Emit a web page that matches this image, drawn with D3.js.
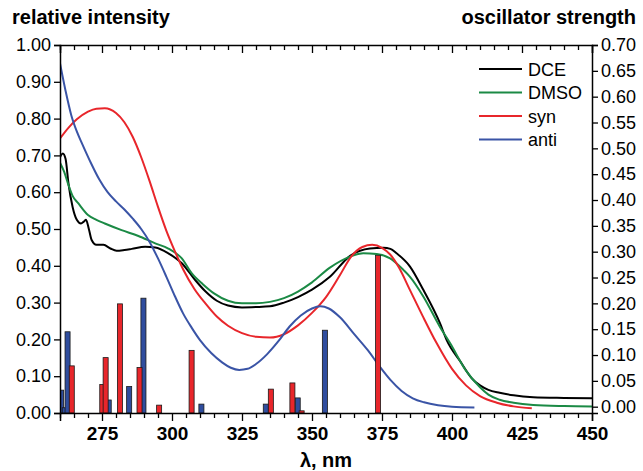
<!DOCTYPE html>
<html>
<head>
<meta charset="utf-8">
<script src="https://cdn.jsdelivr.net/npm/d3@7"></script>
<style>
  body { margin: 0; background: #fff; }
  svg text { font-family: "Liberation Sans", Arial, sans-serif; }
</style>
</head>
<body>
<div id="chart"></div>
<script>

// Absorption spectra (relative intensity), [wavelength nm, value]
var dce = [[260,0.695],[261,0.705],[262,0.69],[263,0.625],[264.5,0.56],[266,0.525],[267.5,0.515],[268.5,0.52],[269.3,0.525],[270.3,0.50],[271.3,0.47],[273,0.457],[275.5,0.457],[278,0.447],[280.2,0.441],[283,0.443],[285.6,0.446],[290.4,0.452],[294,0.45],[298.7,0.434],[303.5,0.407],[308.2,0.362],[312,0.33],[316,0.305],[320,0.292],[325,0.287],[330,0.288],[335,0.29],[340,0.30],[345,0.315],[350,0.335],[356.4,0.37],[363.6,0.427],[370.7,0.447],[375.5,0.449],[378,0.446],[380.2,0.434],[385,0.398],[389.8,0.334],[395.7,0.244],[398.1,0.198],[403,0.14],[407,0.095],[410,0.075],[413,0.063],[417,0.055],[422,0.048],[429,0.043],[440,0.041],[450,0.04]];

var dmso = [[260,0.68],[261.5,0.655],[263,0.62],[264.5,0.59],[266.5,0.57],[270,0.538],[273,0.525],[276,0.515],[282,0.497],[288,0.481],[294,0.461],[298.7,0.447],[303.5,0.42],[307,0.38],[311,0.35],[315,0.325],[320,0.305],[325,0.298],[330,0.298],[335,0.302],[340,0.312],[345,0.33],[350,0.355],[356.4,0.395],[363.6,0.425],[368.3,0.434],[373.1,0.432],[377.9,0.42],[382.6,0.389],[385,0.37],[389.8,0.316],[395.7,0.234],[399.3,0.19],[405,0.115],[410,0.07],[413,0.05],[417,0.036],[422,0.028],[429,0.022],[440,0.019],[450,0.018]];

// Calculated spectra
var syn = [[260,0.746],[263,0.775],[266,0.798],[270,0.819],[273,0.827],[276,0.828],[280,0.815],[283,0.79],[286,0.75],[289,0.695],[292,0.63],[295,0.56],[298,0.495],[301,0.44],[304,0.39],[308,0.337],[312,0.297],[316,0.262],[320,0.237],[325,0.217],[330,0.207],[335,0.205],[340,0.214],[345,0.238],[350,0.272],[355,0.315],[360,0.375],[364,0.425],[368,0.451],[371.5,0.457],[375,0.449],[378,0.43],[381,0.396],[385,0.334],[389.5,0.264],[394.5,0.19],[400,0.12],[405,0.075],[410,0.046],[416,0.028],[422,0.018],[428.5,0.013]];

var anti = [[260,0.95],[262,0.875],[264,0.81],[266,0.765],[268,0.73],[271,0.68],[274,0.635],[277,0.6],[280,0.575],[283,0.553],[286,0.528],[289,0.5],[292,0.465],[295,0.42],[298,0.37],[301,0.318],[304,0.27],[307,0.232],[310,0.198],[314,0.163],[318,0.137],[321,0.123],[324,0.117],[327,0.12],[330,0.133],[334,0.16],[338,0.195],[342,0.235],[346,0.265],[350,0.284],[353,0.29],[356,0.284],[360,0.26],[365,0.215],[370,0.17],[374,0.128],[378,0.09],[382,0.06],[386,0.04],[390,0.029],[395,0.021],[400,0.017],[408,0.015]];

// Oscillator strengths (right axis), [wavelength nm, f]
var synBars = [[264.2,0.079],[275.1,0.043],[276.3,0.095],[281.4,0.199],[288.4,0.076],[295.4,0.003],[307.0,0.109],[335.3,0.034],[343.0,0.046],[346.3,-0.008],[373.6,0.293]];
var antiBars = [[260.4,0.032],[261.7,-0.002],[262.7,0.145],[277.4,0.013],[284.7,0.039],[289.8,0.210],[310.5,0.005],[333.5,0.005],[344.9,0.017],[354.6,0.148]];

var xTicks = [275, 300, 325, 350, 375, 400, 425, 450];
var leftTicks = d3.range(0, 1.001, 0.1);
var rightTicks = d3.range(0, 0.7001, 0.05);

var series = [
    {name: "DCE",  data: dce,  color: "#000000"},
    {name: "DMSO", data: dmso, color: "#1b8a45"},
    {name: "syn",  data: syn,  color: "#e8262b"},
    {name: "anti", data: anti, color: "#3a54a6"}
];


var W = 643, H = 471;
var margin = {top: 45, right: 51, bottom: 58, left: 60},
    width = W - margin.left - margin.right,
    height = H - margin.top - margin.bottom;

var x = d3.scaleLinear().domain([260, 450]).range([0, width]);
var yL = d3.scaleLinear().domain([0, 1]).range([height, 0]);
var yR = d3.scaleLinear().domain([-0.0122, 0.70]).range([height, 0]);

var svg = d3.select("#chart").append("svg")
    .attr("width", W)
    .attr("height", H);

var g = svg.append("g")
    .attr("transform", "translate(" + margin.left + "," + margin.top + ")");

g.append("clipPath").attr("id", "clip")
  .append("rect").attr("width", width).attr("height", height);

// Curves
var line = d3.line()
    .x(function(d) { return x(d[0]); })
    .y(function(d) { return yL(d[1]); })
    .curve(d3.curveMonotoneX);

var plot = g.append("g").attr("clip-path", "url(#clip)");

plot.selectAll("path.spec")
    .data(series)
    .enter().append("path")
    .attr("class", "spec")
    .attr("fill", "none")
    .attr("stroke", function(d) { return d.color; })
    .attr("stroke-width", 2)
    .attr("d", function(d) { return line(d.data); });

// Bars
var barW = 1.8;
function drawBars(data, fill) {
    plot.selectAll(null)
        .data(data)
        .enter().append("rect")
        .attr("x", function(d) { return x(d[0] - barW / 2); })
        .attr("width", x(260 + barW) - x(260))
        .attr("y", function(d) { return yR(d[1]); })
        .attr("height", function(d) { return height - yR(d[1]); })
        .attr("fill", fill)
        .attr("stroke", "#1a1a1a")
        .attr("stroke-width", 0.8);
}
drawBars(antiBars, "#2f4d9e");
drawBars(synBars, "#e8262b");

// Axes
var minor = d3.range(260, 450.1, 5).filter(function(v) { return v % 25 !== 0; });

g.append("g")
    .attr("transform", "translate(0," + height + ")")
    .call(d3.axisBottom(x).tickValues(minor).tickSize(5).tickFormat(""))
    .call(function(a) { a.select(".domain").remove(); });

var xAxis = g.append("g")
    .attr("transform", "translate(0," + height + ")")
    .call(d3.axisBottom(x).tickValues(xTicks).tickSize(8).tickPadding(6).tickFormat(d3.format("d")));
xAxis.selectAll("text")
    .style("font-size", "19px").style("font-weight", "bold").attr("fill", "#000");

g.append("g")
    .call(d3.axisTop(x).tickValues(minor).tickSize(-5).tickFormat(""))
    .call(function(a) { a.select(".domain").remove(); });
g.append("g")
    .call(d3.axisTop(x).tickValues(xTicks).tickSize(-8).tickFormat(""));

var lAxis = g.append("g")
    .call(d3.axisLeft(yL).tickValues(leftTicks).tickSize(6).tickPadding(3).tickFormat(d3.format(".2f")));
lAxis.selectAll("text").style("font-size", "18px").attr("fill", "#000");

var rAxis = g.append("g")
    .attr("transform", "translate(" + width + ",0)")
    .call(d3.axisRight(yR).tickValues(rightTicks).tickSize(6).tickPadding(3).tickFormat(d3.format(".2f")));
rAxis.selectAll("text").style("font-size", "18px").attr("fill", "#000");

g.selectAll(".domain").attr("stroke", "#000").attr("stroke-width", 1.5);
g.selectAll(".tick line").attr("stroke", "#000").attr("stroke-width", 1.3);

// Titles
svg.append("text")
    .attr("x", 12).attr("y", 24)
    .style("font-size", "20px").style("font-weight", "bold")
    .text("relative intensity");

svg.append("text")
    .attr("x", 636).attr("y", 24)
    .attr("text-anchor", "end")
    .style("font-size", "20px").style("font-weight", "bold")
    .text("oscillator strength");

svg.append("text")
    .attr("x", margin.left + width / 2).attr("y", 467)
    .attr("text-anchor", "middle")
    .style("font-size", "20px").style("font-weight", "bold")
    .text("λ, nm");

// Legend
var legend = svg.append("g").attr("transform", "translate(479,69)");
var item = legend.selectAll("g")
    .data(series)
    .enter().append("g")
    .attr("transform", function(d, i) { return "translate(0," + i * 23.5 + ")"; });
item.append("line")
    .attr("x1", 0).attr("x2", 43)
    .attr("stroke", function(d) { return d.color; })
    .attr("stroke-width", 2);
item.append("text")
    .attr("x", 49).attr("y", 6.5)
    .style("font-size", "18px")
    .text(function(d) { return d.name; });

</script>
</body>
</html>
